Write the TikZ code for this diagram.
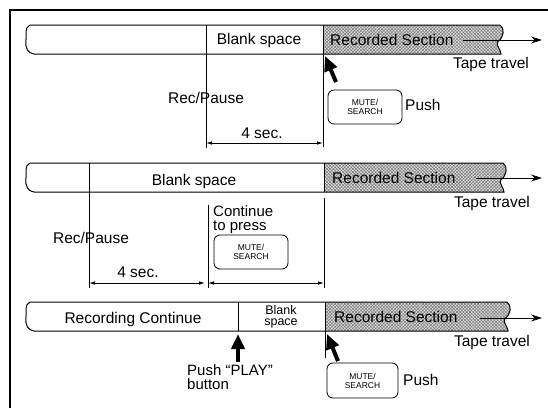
\documentclass[tikz,border=0pt]{standalone}
\usepackage{fontspec}
\setmainfont{Liberation Sans}
\usetikzlibrary{arrows.meta,patterns.meta}
\newcommand\tapedraw[4]{% #1 top y, #2 bottom y, #3 x of recorded start, #4 right x
  \pgfmathsetmacro\tM{(#1+#2)/2}
  \path[fill=black!14,
        postaction={pattern={Lines[angle=45,distance=2.3pt,line width=0.45pt]},pattern color=black!55},
        postaction={pattern={Lines[angle=-45,distance=2.3pt,line width=0.45pt]},pattern color=black!55}]
    (#3,#1) -- (#4,#1) .. controls ({#4+5},{#1+3}) and ({#4+4},{\tM-2}) .. ({#4-2},{\tM+2})
    .. controls ({#4-5},{\tM+5}) and ({#4+1},{#2-4}) .. ({#4+1},#2) -- (#3,#2) -- cycle;
  \draw[tape] (30,#1) -- (#4,#1) .. controls ({#4+5},{#1+3}) and ({#4+4},{\tM-2}) .. ({#4-2},{\tM+2})
    .. controls ({#4-5},{\tM+5}) and ({#4+1},{#2-4}) .. ({#4+1},#2) -- (34,#2)
    .. controls (28,{#2-1}) and (25,{#2-5}) .. (26,\tM) .. controls (27,{\tM-6}) and (24,{#1+3}) .. (30,#1);
}
\begin{document}
\begin{tikzpicture}[x=1pt,y=-1pt,
  txt/.style={font=\fontsize{15.5}{16}\selectfont, inner sep=0pt, anchor=base},
  txtw/.style={txt, anchor=base west},
  twoline/.style={inner sep=0pt, anchor=north west, align=left, font=\fontsize{15}{14.5}\selectfont},
  small/.style={font=\fontsize{12.5}{11.5}\selectfont, inner sep=0pt, align=center},
  tape/.style={line width=1pt},
  vline/.style={line width=0.9pt},
  dim/.style={line width=0.8pt, {Latex[length=6pt,width=3.5pt]}-{Latex[length=6pt,width=3.5pt]}},
  travel/.style={line width=0.8pt, -{Stealth[length=11pt,width=7pt]}},
  bigarrow/.style={line width=4pt, -{Triangle[length=15pt,width=13pt]}},
  btn/.style={draw, line width=0.8pt, rounded corners=6pt, minimum width=74pt, minimum height=34pt,
              inner sep=0pt, align=center, font=\fontsize{8.5}{9}\selectfont}
]
\useasboundingbox (0,0) rectangle (548,408);
% frame
\coordinate (fbl) at (10,408); \coordinate (ftl) at (10,10); \coordinate (ftr) at (548,10);
\draw[line width=1.2pt] (fbl) -- (ftl) -- (ftr);

% ================= Panel 1 =================
\tapedraw{25}{54}{323}{500}
\coordinate (p1a) at (206,25); \coordinate (p1b) at (206,148);
\coordinate (p1c) at (323,25); \coordinate (p1d) at (323,147);
\draw[vline] (p1a) -- (p1b);
\draw[vline] (p1c) -- (p1d);
\node[txt] (bs1) at (259,44) {Blank space};
\node[txtw] (rs1) at (330,45) {Recorded Section};
\coordinate (tr1s) at (463,40); \coordinate (tr1e) at (542,40);
\draw[travel] (tr1s) -- (tr1e);
\node[txt] (tt1) at (491,68) {Tape travel};
\node[txt] (rp1) at (206,103) {Rec/Pause};
\node[txt] (fs1) at (262,138) {4 sec.};
\coordinate (d1l) at (206,143); \coordinate (d1r) at (323,143);
\draw[dim] (d1l) -- (d1r);
\coordinate (ba1t) at (336,82); \coordinate (ba1h) at (325,56);
\draw[bigarrow] (ba1t) -- (ba1h);
\node[btn] (mb1) at (365,107) {MUTE/\\SEARCH};
\node[txtw] (pu1) at (405,110) {Push};

% ================= Panel 2 =================
\tapedraw{163}{192}{324}{503}
\coordinate (p2a) at (89,163); \coordinate (p2b) at (89,288);
\coordinate (p2c) at (324,163); \coordinate (p2d) at (324,192);
\coordinate (p2e) at (324,198); \coordinate (p2f) at (324,288);
\coordinate (p2g) at (208,205); \coordinate (p2h) at (208,288);
\draw[vline] (p2a) -- (p2b);
\draw[vline] (p2c) -- (p2d);
\draw[vline] (p2e) -- (p2f);
\draw[vline] (p2g) -- (p2h);
\node[txt] (bs2) at (194,185) {Blank space};
\node[txtw] (rs2) at (332,183) {Recorded Section};
\coordinate (tr2s) at (476,178); \coordinate (tr2e) at (542,178);
\draw[travel] (tr2s) -- (tr2e);
\node[txt] (tt2) at (492,207) {Tape travel};
\node[txt] (rp2) at (91,243) {Rec/Pause};
\node[twoline] (cp2) at (213,205) {Continue\\to press};
\node[btn] (mb2) at (251,252) {MUTE/\\SEARCH};
\node[txt] (fs2) at (138,277) {4 sec.};
\coordinate (d2l) at (89,283); \coordinate (d2m) at (205,283);
\coordinate (d2n) at (208,283); \coordinate (d2r) at (324,283);
\draw[dim] (d2l) -- (d2m);
\draw[dim] (d2n) -- (d2r);

% ================= Panel 3 =================
\tapedraw{302}{331}{325}{507}
\coordinate (p3a) at (238,302); \coordinate (p3b) at (238,331);
\coordinate (p3c) at (325,302); \coordinate (p3d) at (325,358);
\draw[vline] (p3a) -- (p3b);
\draw[vline] (p3c) -- (p3d);
\node[txt] (rc3) at (133,323) {Recording Continue};
\node[small, anchor=center] (bs3) at (281,317) {Blank\\space};
\node[txtw] (rs3) at (334,322) {Recorded Section};
\coordinate (tr3s) at (480,318); \coordinate (tr3e) at (542,318);
\draw[travel] (tr3s) -- (tr3e);
\node[txt] (tt3) at (492,346) {Tape travel};
\coordinate (ba2t) at (238,362); \coordinate (ba2h) at (238,334);
\draw[bigarrow] (ba2t) -- (ba2h);
\node[twoline] (pp3) at (187,364) {Push ``PLAY''\\button};
\coordinate (ba3t) at (338,361); \coordinate (ba3h) at (327,334);
\draw[bigarrow] (ba3t) -- (ba3h);
\node[btn, minimum width=71pt, minimum height=35pt] (mb3) at (362.5,380.5) {MUTE/\\SEARCH};
\node[txtw] (pu3) at (403,385) {Push};
\end{tikzpicture}
\end{document}
